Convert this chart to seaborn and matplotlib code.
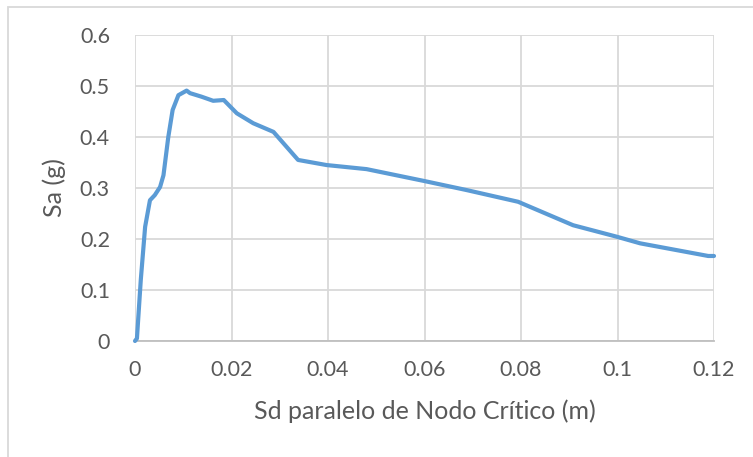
import numpy as np
import pandas as pd
import matplotlib
matplotlib.use("Agg")
import matplotlib.pyplot as plt
import matplotlib.patches as patches
import seaborn as sns

# Pushover-type capacity curve
sd_m = [0.0, 0.0004, 0.0012, 0.0021, 0.0031, 0.0041, 0.0052, 0.0059, 0.0069,
        0.0078, 0.0090, 0.0107, 0.0114, 0.0138, 0.0162, 0.0184, 0.0211, 0.0245,
        0.0287, 0.0338, 0.0397, 0.0480, 0.0598, 0.0687, 0.0794, 0.0908, 0.0998,
        0.1047, 0.1188, 0.1200]
sa_g = [0.0, 0.005, 0.12, 0.224, 0.276, 0.286, 0.302, 0.325, 0.400,
        0.453, 0.482, 0.491, 0.486, 0.479, 0.471, 0.4725, 0.4465, 0.427,
        0.410, 0.355, 0.345, 0.337, 0.314, 0.296, 0.273, 0.227, 0.2046,
        0.1915, 0.1667, 0.1667]

x_ticks = [0, 0.02, 0.04, 0.06, 0.08, 0.1, 0.12]
x_tick_labels = ["0", "0.02", "0.04", "0.06", "0.08", "0.1", "0.12"]
y_ticks = [0, 0.1, 0.2, 0.3, 0.4, 0.5, 0.6]
y_tick_labels = ["0", "0.1", "0.2", "0.3", "0.4", "0.5", "0.6"]

df = pd.DataFrame({"sd": sd_m, "sa": sa_g})

sns.set_style("white")
plt.rcParams['font.family'] = ['Lato', 'DejaVu Sans']

text_col = '#595959'
grid_col = '#d9d9d9'

fig = plt.figure(figsize=(7.53, 4.57), dpi=100)
fig.set_facecolor('white')

# chart border (cropped on right and bottom, like the screenshot)
border = patches.Rectangle((7.5 / 753, -0.05), 1.0, 1 - 6.5 / 457 + 0.05,
                           transform=fig.transFigure, fill=False,
                           edgecolor=grid_col, linewidth=1.3)
fig.patches.append(border)

ax = fig.add_axes([135 / 753, 1 - 341 / 457, (714 - 135) / 753, (341 - 35) / 457])

sns.lineplot(data=df, x="sd", y="sa", sort=False, ax=ax,
             color='#5B9BD5', linewidth=3.0, solid_capstyle='round',
             solid_joinstyle='round', zorder=3, clip_on=False)

ax.set_xlim(0, 0.12)
ax.set_ylim(0, 0.6)
ax.set_xticks(x_ticks)
ax.set_xticklabels(x_tick_labels)
ax.set_yticks(y_ticks)
ax.set_yticklabels(y_tick_labels)

ax.grid(True, color=grid_col, linewidth=1.3)
ax.set_axisbelow(True)
for side in ['top', 'right', 'left']:
    ax.spines[side].set_visible(False)
ax.spines['bottom'].set_color('#bfbfbf')
ax.spines['bottom'].set_linewidth(1.3)
ax.spines['bottom'].set_zorder(2)

ax.tick_params(axis='both', length=0, labelsize=15.5, colors=text_col)
ax.tick_params(axis='y', pad=18)
ax.tick_params(axis='x', pad=14)

ax.set_xlabel("Sd paralelo de Nodo Crítico (m)", fontsize=18, color=text_col, labelpad=14)
ax.set_ylabel("Sa (g)", fontsize=18, color=text_col, labelpad=10)

fig.savefig("out.png", dpi=100, facecolor='white')
